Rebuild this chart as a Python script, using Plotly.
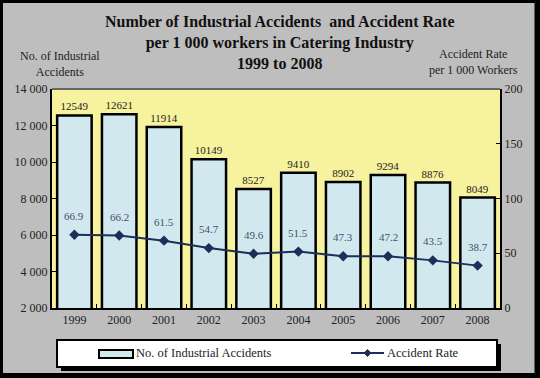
import plotly.graph_objects as go

years = ["1999", "2000", "2001", "2002", "2003", "2004", "2005", "2006", "2007", "2008"]
accidents = [12549, 12621, 11914, 10149, 8527, 9410, 8902, 9294, 8876, 8049]
rate = [66.9, 66.2, 61.5, 54.7, 49.6, 51.5, 47.3, 47.2, 43.5, 38.7]
left_ticks = [2000, 4000, 6000, 8000, 10000, 12000, 14000]
left_tick_labels = ["2 000", "4 000", "6 000", "8 000", "10 000", "12 000", "14 000"]
right_ticks = [0, 50, 100, 150, 200]

FONT = "Liberation Serif"
BG = "#bebebe"
PLOT_BG = "#f7f29d"
BAR_FILL = "#d2e8ef"
LINE_C = "#1c2f5a"

L, R, T, B = 52, 40, 89, 70
W, H = 540, 378
PW, PH = W - L - R, H - T - B


def px(xp):
    return (xp - L) / PW


def py(yp):
    return (H - B - yp) / PH


fig = go.Figure()
fig.add_trace(go.Bar(
    x=years, y=accidents, name="No. of Industrial Accidents",
    marker=dict(color=BAR_FILL, line=dict(color="black", width=2.5)),
    text=[str(v) for v in accidents], textposition="outside",
    textfont=dict(family=FONT, size=11, color="#222222"),
    cliponaxis=False, showlegend=False,
))
fig.add_trace(go.Scatter(
    x=years, y=rate, yaxis="y2", mode="lines+markers", name="Accident Rate",
    line=dict(color=LINE_C, width=2),
    marker=dict(symbol="diamond", size=8, color=LINE_C),
    showlegend=False,
))
for i, r in enumerate(rate):
    fig.add_annotation(x=i, y=r, xref="x", yref="y2", text=f"{r}", showarrow=False,
                       yshift=19, font=dict(family=FONT, size=11, color="#44506c"))

fig.update_layout(
    width=W, height=H,
    paper_bgcolor=BG, plot_bgcolor=PLOT_BG,
    margin=dict(l=L, r=R, t=T, b=B),
    font=dict(family=FONT, size=12, color="#222222"),
    bargap=0.23,
    showlegend=False,
    xaxis=dict(type="category", showline=True, linecolor="black", linewidth=2, ticks="inside",
               tickson="boundaries", ticklen=4, tickcolor="black",
               tickfont=dict(family=FONT, size=12, color="#222222"), showgrid=False,
               range=[-0.5, 9.5]),
    yaxis=dict(range=[2000, 14000], tickvals=left_ticks, ticktext=left_tick_labels,
               showline=True, linecolor="black", linewidth=2, ticks="inside",
               ticklen=4, tickcolor="black", showgrid=False, zeroline=False,
               tickfont=dict(family=FONT, size=12, color="#222222")),
    yaxis2=dict(range=[0, 200], tickvals=right_ticks, overlaying="y", side="right",
                showline=True, linecolor="black", linewidth=2, ticks="inside",
                ticklen=4, tickcolor="black", showgrid=False, zeroline=False,
                tickfont=dict(family=FONT, size=12, color="#222222")),
)

# title
fig.add_annotation(xref="paper", yref="paper", x=px(280), y=1, xanchor="center", yanchor="bottom",
                   yshift=15, showarrow=False, align="center",
                   text="<b>Number of Industrial Accidents  and Accident Rate<br>per 1 000 workers in Catering Industry<br>1999 to 2008</b>",
                   font=dict(family=FONT, size=16, color="#111111"))
# axis titles
fig.add_annotation(xref="paper", yref="paper", x=px(60), y=1, xanchor="center", yanchor="bottom",
                   yshift=8, showarrow=False, align="center",
                   text="No. of Industrial<br>Accidents", font=dict(family=FONT, size=12, color="#222222"))
fig.add_annotation(xref="paper", yref="paper", x=px(520), y=1, xanchor="right", yanchor="bottom",
                   yshift=10, showarrow=False, align="center",
                   text="Accident Rate<br>per 1 000 Workers", font=dict(family=FONT, size=12, color="#222222"))

shapes = []
# plot top border
shapes.append(dict(type="line", xref="paper", yref="paper", x0=0, x1=1, y0=1, y1=1,
                   line=dict(color="#666666", width=2)))
# outer border
shapes.append(dict(type="rect", xref="paper", yref="paper", x0=px(1.5), x1=px(536), y0=py(375), y1=py(1.5),
                   line=dict(color="black", width=3)))
shapes.append(dict(type="rect", xref="paper", yref="paper", x0=px(535), x1=px(540), y0=py(378), y1=py(0),
                   fillcolor="black", line=dict(width=0)))
shapes.append(dict(type="rect", xref="paper", yref="paper", x0=px(0), x1=px(540), y0=py(378), y1=py(373),
                   fillcolor="black", line=dict(width=0)))

# legend box
shapes.append(dict(type="rect", xref="paper", yref="paper", x0=px(61), x1=px(501), y0=py(371), y1=py(344),
                   fillcolor="black", line=dict(width=0)))
shapes.append(dict(type="rect", xref="paper", yref="paper", x0=px(57), x1=px(497), y0=py(367), y1=py(340),
                   fillcolor="white", line=dict(color="black", width=2)))
shapes.append(dict(type="rect", xref="paper", yref="paper", x0=px(99), x1=px(133), y0=py(358), y1=py(350),
                   fillcolor=BAR_FILL, line=dict(color="black", width=2)))
shapes.append(dict(type="line", xref="paper", yref="paper", x0=px(351), x1=px(384), y0=py(353), y1=py(353),
                   line=dict(color=LINE_C, width=2)))
cx, cy = 367.5, 353
shapes.append(dict(type="path", xref="paper", yref="paper",
                   path=f"M {px(cx-3.5)} {py(cy)} L {px(cx)} {py(cy-3.5)} L {px(cx+3.5)} {py(cy)} L {px(cx)} {py(cy+3.5)} Z",
                   fillcolor=LINE_C, line=dict(color=LINE_C, width=1)))
fig.update_layout(shapes=shapes)

fig.add_annotation(xref="paper", yref="paper", x=px(134), y=py(353), xanchor="left", yanchor="middle",
                   showarrow=False, text="No. of Industrial Accidents",
                   font=dict(family=FONT, size=12.5, color="#222222"))
fig.add_annotation(xref="paper", yref="paper", x=px(385), y=py(353), xanchor="left", yanchor="middle",
                   showarrow=False, text="Accident Rate",
                   font=dict(family=FONT, size=12.5, color="#222222"))

fig.write_html("out.html", config={"displayModeBar": False},
               post_script="document.body.style.margin='0';")
